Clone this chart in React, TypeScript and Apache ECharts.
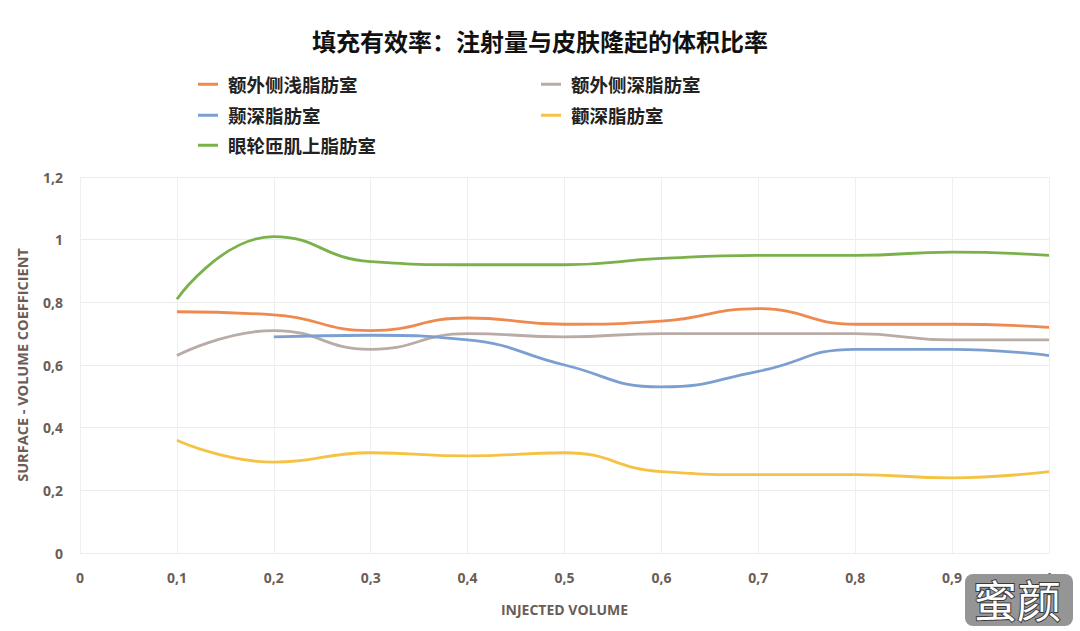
import React, { useEffect, useRef } from "react";
import * as echarts from "echarts";

const titleText = "填充有效率：注射量与皮肤隆起的体积比率";
const xName = "INJECTED VOLUME";
const yName = "SURFACE - VOLUME COEFFICIENT";

const xValues = [0.1, 0.2, 0.3, 0.4, 0.5, 0.6, 0.7, 0.8, 0.9, 1.0];

const seriesNames = ["额外侧浅脂肪室", "额外侧深脂肪室", "颞深脂肪室", "颧深脂肪室", "眼轮匝肌上脂肪室"];

const lateralSuperficial = [0.77, 0.76, 0.71, 0.75, 0.73, 0.74, 0.78, 0.73, 0.73, 0.72];
const lateralDeep = [0.63, 0.71, 0.65, 0.70, 0.69, 0.70, 0.70, 0.70, 0.68, 0.68];
const temporalDeep = [null, 0.69, 0.695, 0.68, 0.60, 0.53, 0.58, 0.65, 0.65, 0.63];
const malarDeep = [0.36, 0.29, 0.32, 0.31, 0.32, 0.26, 0.25, 0.25, 0.24, 0.26];
const soof = [0.81, 1.01, 0.93, 0.92, 0.92, 0.94, 0.95, 0.95, 0.96, 0.95];

const seriesValues = [lateralSuperficial, lateralDeep, temporalDeep, malarDeep, soof];
const colors = ["#ee8a4f", "#b9aba6", "#7c9fd1", "#f5c244", "#7ab14b"];

const legendPos = [
  { left: 198, top: 75 },
  { left: 541, top: 75 },
  { left: 198, top: 106 },
  { left: 541, top: 106 },
  { left: 198, top: 136 },
];

const fmt = (v: number) => (v === 0 ? "0" : String(Math.round(v * 10) / 10).replace(".", ","));

export default function App() {
  const ref = useRef<HTMLDivElement>(null);
  useEffect(() => {
    if (!ref.current) return;
    const chart = echarts.init(ref.current, undefined, { renderer: "svg" });
    const axisLabelColor = "#6b5d56";
    const narrow = "'Open Sans', sans-serif";
    chart.setOption({
      animation: false,
      backgroundColor: "#ffffff",
      title: {
        text: titleText,
        left: "center",
        top: 28,
        padding: 0,
        textStyle: { fontSize: 24, fontWeight: "bold", color: "#111", fontFamily: "'Noto Sans CJK SC', sans-serif" },
      },
      legend: seriesNames.map((n, i) => ({
        data: [n],
        left: legendPos[i].left,
        top: legendPos[i].top,
        padding: 0,
        icon: "rect",
        itemWidth: 20,
        itemHeight: 3,
        textStyle: {
          fontSize: 18.5,
          fontWeight: "bold",
          color: "#222",
          fontFamily: "'Noto Sans CJK SC', sans-serif",
          padding: [0, 0, 0, 5],
        },
      })),
      grid: { left: 80, right: 31, top: 177, bottom: 78 },
      xAxis: {
        type: "value",
        min: 0,
        max: 1,
        interval: 0.1,
        name: xName,
        nameLocation: "middle",
        nameGap: 49,
        nameTextStyle: { fontSize: 14, fontWeight: "bold", color: axisLabelColor, fontFamily: narrow },
        axisLine: { show: false },
        axisTick: { show: false },
        axisLabel: { formatter: fmt, fontSize: 14, fontWeight: "bold", color: axisLabelColor, margin: 17, fontFamily: narrow },
        splitLine: { show: true, lineStyle: { color: "#efefef", width: 1 } },
      },
      yAxis: {
        type: "value",
        min: 0,
        max: 1.2,
        interval: 0.2,
        name: yName,
        nameLocation: "middle",
        nameGap: 50,
        nameTextStyle: { fontSize: 14.5, fontWeight: "bold", color: axisLabelColor, fontFamily: narrow },
        axisLine: { show: false },
        axisTick: { show: false },
        axisLabel: { formatter: fmt, fontSize: 14, fontWeight: "bold", color: axisLabelColor, margin: 17, fontFamily: narrow },
        splitLine: { show: true, lineStyle: { color: "#ebebeb", width: 1 } },
      },
      series: seriesNames.map((n, i) => ({
        name: n,
        type: "line",
        smooth: 0.5,
        showSymbol: false,
        symbol: "none",
        color: colors[i],
        lineStyle: { width: 2.8, color: colors[i] },
        data: xValues
          .map((x, j) => [x, seriesValues[i][j]])
          .filter((p) => p[1] !== null),
      })),
      graphic: [
        {
          type: "rect",
          left: 965,
          top: 574,
          shape: { width: 108, height: 52, r: 8 },
          style: { fill: "#959595" },
          z: 100,
        },
        {
          type: "text",
          left: 972,
          top: 576,
          style: {
            text: "蜜颜",
            fontSize: 44,
            fontFamily: "'Noto Sans CJK SC', sans-serif",
            fill: "#ffffff",
            stroke: "#3a3a3a",
            lineWidth: 2,
          },
          z: 101,
        },
      ],
    });
    return () => chart.dispose();
  }, []);
  return <div ref={ref} style={{ position: "absolute", left: 0, top: 0, width: 1080, height: 631 }} />;
}
